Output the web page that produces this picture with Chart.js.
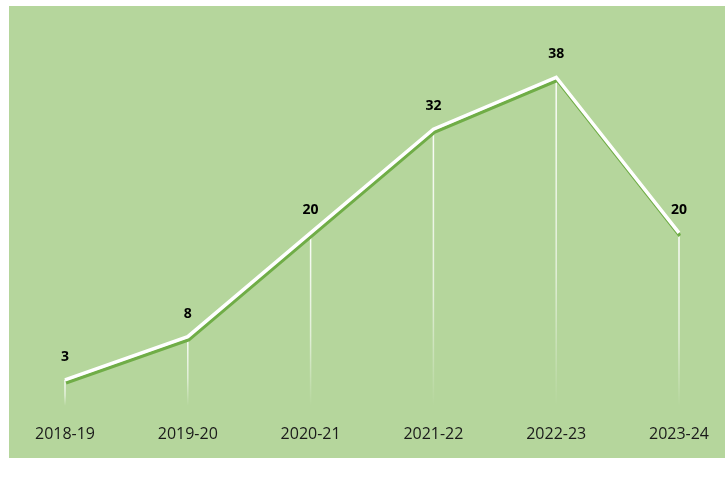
<!DOCTYPE html>
<html>
<head>
<meta charset="utf-8">
<script src="https://cdn.jsdelivr.net/npm/chart.js@4/dist/chart.umd.min.js"></script>
<style>
  html, body { margin: 0; padding: 0; background: #ffffff; }
  #wrap { width: 725px; height: 486px; position: relative; }
</style>
</head>
<body>
<div id="wrap"><canvas id="myChart"></canvas></div>
<script>
// dados do grafico
var anos = ['2018-19', '2019-20', '2020-21', '2021-22', '2022-23', '2023-24'];
var valores = [3, 8, 20, 32, 38, 20];

var verdeFundo = '#b5d69c';
var verdeLinha = '#70ad47';

// fundo verde da area do grafico
var fundo = {
    id: 'fundo',
    beforeDraw: function(chart) {
        var ctx = chart.ctx;
        ctx.save();
        ctx.fillStyle = verdeFundo;
        ctx.fillRect(9, 6, chart.width - 9, 452);
        ctx.restore();
    }
};

// linhas verticais que descem de cada ponto
var linhasQueda = {
    id: 'linhasQueda',
    beforeDatasetsDraw: function(chart) {
        var ctx = chart.ctx;
        var meta = chart.getDatasetMeta(0);
        var base = chart.scales.y.getPixelForValue(0);
        ctx.save();
        meta.data.forEach(function(p) {
            var g = ctx.createLinearGradient(0, p.y, 0, base);
            g.addColorStop(0, 'rgba(255,255,255,0.95)');
            g.addColorStop(0.6, 'rgba(255,255,255,0.6)');
            g.addColorStop(1, 'rgba(255,255,255,0)');
            ctx.strokeStyle = g;
            ctx.lineWidth = 1.5;
            ctx.beginPath();
            ctx.moveTo(p.x, p.y);
            ctx.lineTo(p.x, base);
            ctx.stroke();
        });
        ctx.restore();
    },
    // sombra verde da linha
    beforeDatasetDraw: function(chart) {
        var ctx = chart.ctx;
        ctx.save();
        ctx.shadowColor = verdeLinha;
        ctx.shadowOffsetX = 1;
        ctx.shadowOffsetY = 3;
        ctx.shadowBlur = 0;
    },
    afterDatasetDraw: function(chart) {
        chart.ctx.restore();
    }
};

// rotulos com os valores
var rotulos = {
    id: 'rotulos',
    afterDatasetsDraw: function(chart) {
        var ctx = chart.ctx;
        var meta = chart.getDatasetMeta(0);
        ctx.save();
        ctx.fillStyle = '#000000';
        ctx.font = 'bold 14px "Open Sans", sans-serif';
        ctx.textAlign = 'center';
        ctx.textBaseline = 'middle';
        meta.data.forEach(function(p, i) {
            ctx.fillText(String(valores[i]), p.x, p.y - 23);
        });
        ctx.restore();
    }
};

var ctx = document.getElementById('myChart').getContext('2d');
var myChart = new Chart(ctx, {
    type: 'line',
    data: {
        labels: anos,
        datasets: [{
            data: valores,
            borderColor: '#ffffff',
            borderWidth: 3.5,
            pointRadius: 0,
            tension: 0,
            fill: false
        }]
    },
    options: {
        responsive: true,
        maintainAspectRatio: false,
        animation: false,
        layout: {
            padding: { left: 65, right: 46, top: 60, bottom: 23 }
        },
        plugins: {
            legend: { display: false },
            tooltip: { enabled: false }
        },
        scales: {
            x: {
                offset: false,
                grid: { display: false, drawTicks: false },
                border: { display: false },
                afterFit: function(scale) {
                    scale.paddingLeft = 0;
                    scale.paddingRight = 0;
                },
                ticks: {
                    color: '#1a1a1a',
                    padding: 19,
                    maxRotation: 0,
                    autoSkip: false,
                    font: { family: '"Open Sans", sans-serif', size: 16 }
                }
            },
            y: {
                display: false,
                min: 0,
                max: 40
            }
        }
    },
    plugins: [fundo, linhasQueda, rotulos]
});
</script>
</body>
</html>
